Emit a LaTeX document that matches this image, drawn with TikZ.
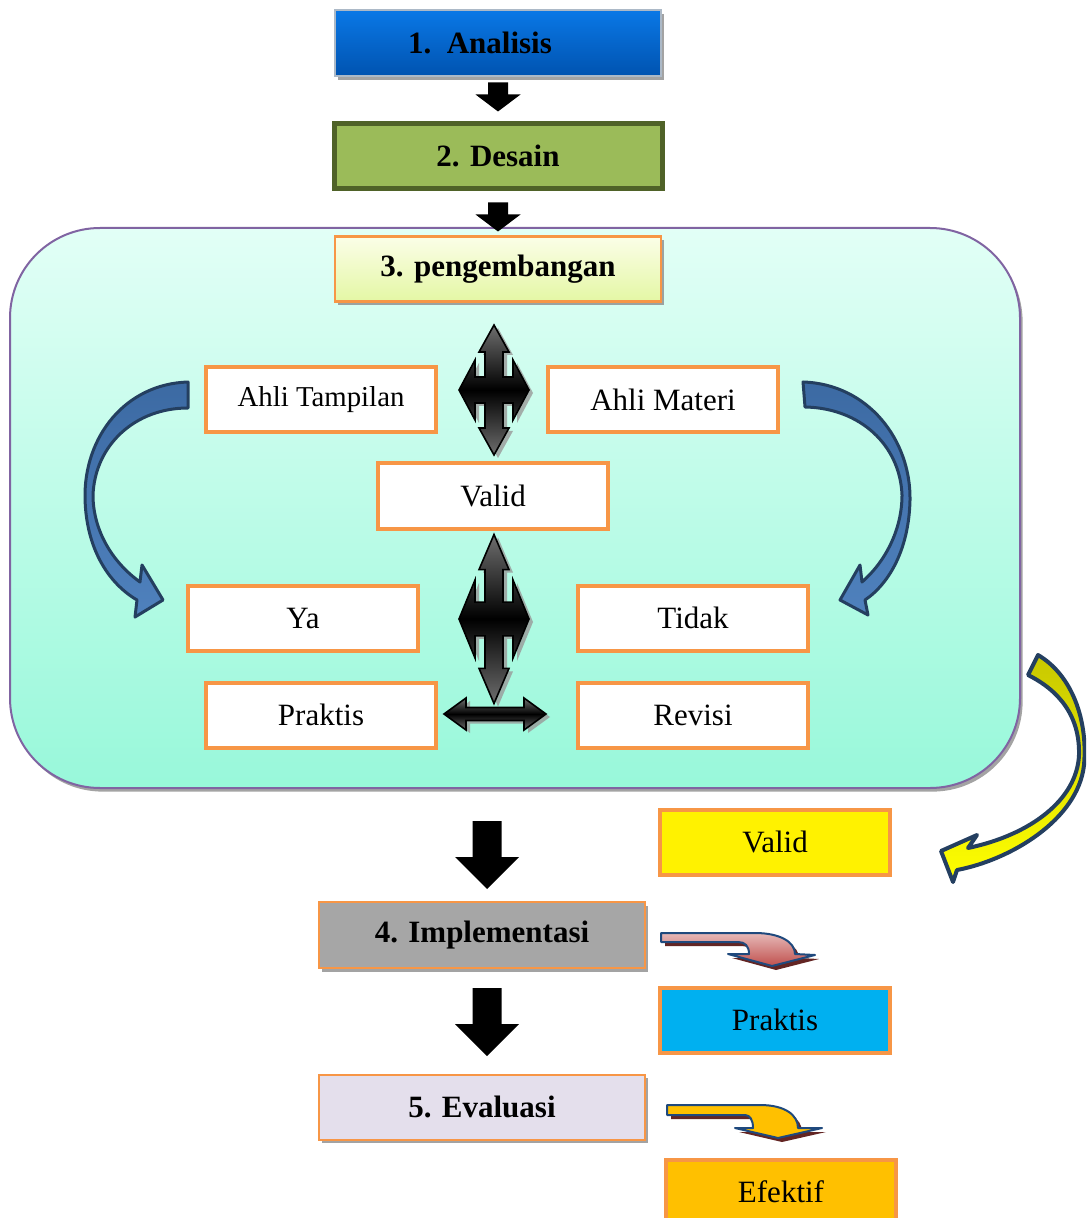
\documentclass[tikz,border=0pt]{standalone}
\usepackage{fontspec}
\setmainfont{Liberation Serif}
\usetikzlibrary{calc}
\usetikzlibrary{shadows}
\definecolor{borange}{HTML}{F79646}
\definecolor{bluetop}{HTML}{0A78E6}
\definecolor{bluebot}{HTML}{0053B0}
\definecolor{desgreen}{HTML}{9BBB59}
\definecolor{desborder}{HTML}{4F6228}
\definecolor{regtop}{HTML}{E2FFF6}
\definecolor{regbot}{HTML}{98F8DA}
\definecolor{regline}{HTML}{8064A2}
\definecolor{pengtop}{HTML}{FBFEE8}
\definecolor{pengbot}{HTML}{E4F7A4}
\definecolor{arrblue}{HTML}{4F81BD}
\definecolor{arrbluedk}{HTML}{3C6AA3}
\definecolor{arrline}{HTML}{243F60}
\definecolor{impgray}{HTML}{A6A6A6}
\definecolor{evalav}{HTML}{E4DFEC}
\definecolor{prcyan}{HTML}{00B0F0}
\definecolor{efgold}{HTML}{FFC000}
\definecolor{yolive}{HTML}{C8C800}
\definecolor{redtop}{HTML}{E6B9B8}
\definecolor{redbot}{HTML}{C0504D}
\definecolor{dkred}{HTML}{632523}
\definecolor{bentline}{HTML}{1F497D}
\definecolor{qgray}{HTML}{6E6E6E}
\newcommand{\boxfont}{\fontsize{15.5}{18}\selectfont}
\tikzset{
	boxshadow/.style={drop shadow={shadow xshift=1.3pt, shadow yshift=-1.8pt, fill=black!45, opacity=.8}},
	stepbox/.style={minimum width=163pt, minimum height=32.5pt, inner sep=0pt, font=\boxfont\bfseries},
	subbox/.style={draw=borange, line width=2pt, fill=white, minimum width=115pt, minimum height=32.5pt, inner sep=0pt, font=\boxfont},
	region/.style={draw=regline, line width=1pt, rounded corners=45pt, top color=regtop, bottom color=regbot,
		minimum width=505pt, minimum height=280pt, boxshadow},
	curvarrow/.style={draw=arrline, line width=1.5pt, line join=round},
	bentarrow/.style={draw=bentline, line width=1pt, line join=round},
	smalldown/.pic={
		\fill (-10,-14.5) -- (10,-14.5) -- (10,-2.5) -- (22.5,-2.5) -- (0,14.5) -- (-22.5,-2.5) -- (-10,-2.5) -- cycle;
	},
	bigdown/.pic={
		\fill (-14.5,-34) -- (14.5,-34) -- (14.5,2) -- (32,2) -- (0,34) -- (-32,2) -- (-14.5,2) -- cycle;
	},
	quadarrow/.pic={
		\draw[line width=0.8pt, line join=miter, top color=qgray, bottom color=qgray, middle color=black,
			drop shadow={shadow xshift=2pt, shadow yshift=-1.5pt, fill=gray!80, opacity=.8}]
		(0,-65) -- (15,-38) -- (9,-38) -- (9,-13) -- (19,-13) -- (19,-30) -- (35,0) -- (19,30) -- (19,13) -- (9,13)
		-- (9,38) -- (15,38) -- (0,65) -- (-15,38) -- (-9,38) -- (-9,13) -- (-19,13) -- (-19,30) -- (-35,0)
		-- (-19,-30) -- (-19,-13) -- (-9,-13) -- (-9,-38) -- (-15,-38) -- cycle;
	},
	dblarrow/.pic={
		\draw[line width=0.8pt, top color=qgray, bottom color=qgray, middle color=black,
			drop shadow={shadow xshift=2pt, shadow yshift=-1.5pt, fill=gray!80, opacity=.8}]
		(-51,0) -- (-29,-16) -- (-29,-6.5) -- (29,-6.5) -- (29,-16) -- (51,0) -- (29,16) -- (29,6.5)
		-- (-29,6.5) -- (-29,16) -- cycle;
	}
}

\begin{document}
\begin{tikzpicture}[x=0.5pt, y=-0.5pt]
	\useasboundingbox (0,0) rectangle (1086,1218);
	\clip (0,0) rectangle (1086,1218);
	
	% steps 1 and 2
	\node[stepbox, minimum height=33pt, draw=bluebot!30!gray!50, line width=0.8pt, top color=bluetop, bottom color=bluebot, boxshadow]
		(ana) at (498,43) {1.\ \ Analisis\hspace*{18pt}};
	\node[stepbox, minimum width=164pt, draw=desborder, line width=2.5pt, fill=desgreen] (des) at (498,156) {2. Desain};
	\pic at (498,97) {smalldown};
	
	% step 3
	\node[region] (dev) at (515,508) {};
	\pic at (498,217) {smalldown};
	\node[stepbox, draw=borange, line width=1.2pt, top color=pengtop, bottom color=pengbot, boxshadow]
		(peng) at (498,269) {3. pengembangan};
	
	\node[subbox, font=\fontsize{14.4}{17}\selectfont] (tamp) at (321,400) {Ahli Tampilan};
	\node[subbox] (mat) at (663,400) {Ahli Materi};
	\node[subbox] (val) at (493,496) {Valid};
	\node[subbox] (ya) at (303,618) {Ya};
	\node[subbox] (tdk) at (693,618) {Tidak};
	\node[subbox] (prk) at (321,715) {Praktis};
	\node[subbox] (rev) at (693,715) {Revisi};
	
	\pic at (494,390) {quadarrow};
	\pic[yscale=1.3] at (494,619) {quadarrow};
	\pic at (495,714) {dblarrow};
	
	\draw[curvarrow, top color=arrbluedk, bottom color=arrblue]
		(188,382) .. controls (125,384) and (84,437) .. (85,498) .. controls (86,548) and (108,583) .. (137,600)
		-- (135,617) -- (163,600) -- (142,565) -- (140,582)
		.. controls (112,562) and (93,530) .. (93,495) .. controls (95,445) and (135,408) .. (188,408) -- cycle;
	\draw[curvarrow, top color=arrbluedk, bottom color=arrblue]
		(803,382) .. controls (868,384) and (911,440) .. (910,500) .. controls (909,548) and (890,583) .. (865,600)
		-- (868,615) -- (840,600) -- (860,565) -- (862,582)
		.. controls (885,562) and (902,530) .. (902,495) .. controls (900,445) and (860,408) .. (805,407) -- cycle;
	
	% results
	\draw[curvarrow, line width=2pt, top color=yolive, bottom color=yellow]
		(1038,655) .. controls (1072,675) and (1088,720) .. (1084,765) .. controls (1078,820) and (1010,860) .. (957,870)
		-- (953,882) -- (941,851) -- (977,835) -- (968,848)
		.. controls (1030,835) and (1077,800) .. (1079,755) .. controls (1080,715) and (1058,690) .. (1028,675) -- cycle;
	\node[subbox, fill=yellow] (vy) at (775,842) {Valid};
	
	% steps 4 and 5
	\pic at (487,855) {bigdown};
	\node[stepbox, minimum height=33pt, draw=borange, line width=1pt, fill=impgray, boxshadow] (imp) at (482,935) {4. Implementasi};
	\pic at (487,1022) {bigdown};
	\node[stepbox, draw=borange, line width=1pt, fill=evalav, boxshadow] (eva) at (482,1107) {5. Evaluasi};
	
	\draw[bentarrow, top color=redtop, bottom color=redbot,
		drop shadow={shadow xshift=2pt, shadow yshift=-2pt, fill=dkred, opacity=1}]
		(661,933) -- (755,933) .. controls (780,933) and (795,942) .. (795,954) -- (815,955) -- (772,966) -- (728,954)
		-- (749,954) .. controls (749,946) and (745,942) .. (738,942) -- (661,942) -- cycle;
	\node[subbox, fill=prcyan] (prc) at (775,1020) {Praktis};
	
	\draw[bentarrow, fill=efgold,
		drop shadow={shadow xshift=2pt, shadow yshift=-2pt, fill=dkred, opacity=1}]
		(667,1105) -- (760,1105) .. controls (785,1105) and (798,1115) .. (798,1128) -- (822,1128) -- (778,1138) -- (735,1128)
		-- (753,1128) .. controls (753,1120) and (750,1115) .. (745,1115) -- (667,1115) -- cycle;
	\node[subbox, fill=efgold] (efk) at (781,1192) {Efektif};
\end{tikzpicture}
\end{document}
